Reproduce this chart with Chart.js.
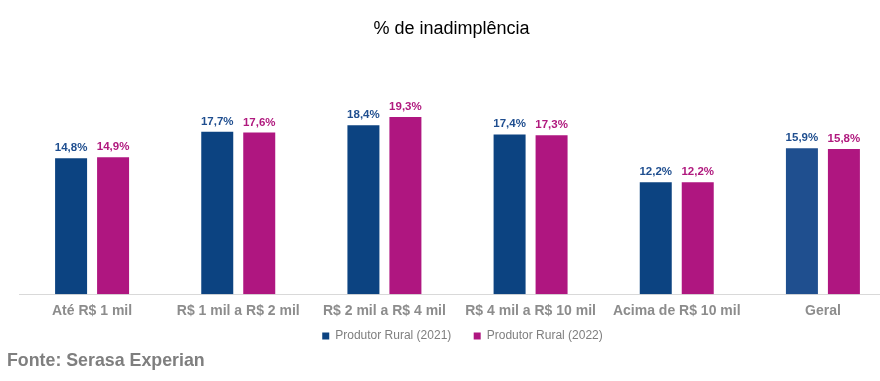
<!DOCTYPE html>
<html>
<head>
<meta charset="utf-8">
<script src="https://cdn.jsdelivr.net/npm/chart.js@4.4.1/dist/chart.umd.min.js"></script>
<style>
  html, body { margin: 0; padding: 0; background: #ffffff; width: 880px; height: 381px; overflow: hidden; }
  #wrap { position: absolute; left: 0; top: 0; width: 900px; height: 353px; }
  #footer { position: absolute; left: 7px; top: 350px; font: bold 17.8px Arial, "Liberation Sans", sans-serif; color: #7f7f7f; white-space: nowrap; }
</style>
</head>
<body>
<div id="wrap"><canvas id="c" width="900" height="353"></canvas></div>
<div id="footer">Fonte: Serasa Experian</div>
<script>
const categories = ['Até R$ 1 mil', 'R$ 1 mil a R$ 2 mil', 'R$ 2 mil a R$ 4 mil', 'R$ 4 mil a R$ 10 mil', 'Acima de R$ 10 mil', 'Geral'];
const seriesNames = ['Produtor Rural (2021)', 'Produtor Rural (2022)'];
const values2021 = [14.8, 17.7, 18.4, 17.4, 12.2, 15.9];
const values2022 = [14.9, 17.6, 19.3, 17.3, 12.2, 15.8];
const titleText = '% de inadimplência';

const FONT = 'Arial, "Liberation Sans", sans-serif';
const blue = '#0c4381';
const blueGeral = '#1f4f8f';
const magenta = '#af1680';

const fmt = v => v.toFixed(1).replace('.', ',') + '%';

const valueLabels = {
  id: 'valueLabels',
  afterDatasetsDraw(chart) {
    const ctx = chart.ctx;
    chart.data.datasets.forEach((ds, i) => {
      const meta = chart.getDatasetMeta(i);
      meta.data.forEach((bar, j) => {
        ctx.save();
        ctx.font = 'bold 11.5px ' + FONT;
        ctx.fillStyle = ds.labelColor;
        ctx.textAlign = 'center';
        ctx.textBaseline = 'alphabetic';
        ctx.fillText(fmt(ds.data[j]), bar.x, bar.y - 7);
        ctx.restore();
      });
    });
  }
};

const nudgeBlocks = {
  id: 'nudgeBlocks',
  afterLayout(chart) {
    if (chart.legend) { chart.legend.left += 5; chart.legend.right += 5; chart.legend.top -= 1; chart.legend.bottom -= 1; }
    if (chart.titleBlock) { chart.titleBlock.left -= 6; chart.titleBlock.right -= 6; }
  }
};

new Chart(document.getElementById('c'), {
  type: 'bar',
  data: {
    labels: categories,
    datasets: [
      {
        label: seriesNames[0],
        data: values2021,
        backgroundColor: values2021.map((v, i) => i === categories.length - 1 ? blueGeral : blue),
        labelColor: '#1f4e8f',
        categoryPercentage: 0.5745,
        barPercentage: 0.762
      },
      {
        label: seriesNames[1],
        data: values2022,
        backgroundColor: magenta,
        labelColor: '#b0197e',
        categoryPercentage: 0.5745,
        barPercentage: 0.762
      }
    ]
  },
  options: {
    responsive: false,
    animation: false,
    devicePixelRatio: 1,
    layout: { padding: { left: 19, right: 4, top: 0, bottom: 0 } },
    plugins: {
      title: {
        display: true,
        text: titleText,
        color: '#000000',
        font: { family: FONT, size: 18, weight: 'normal' },
        padding: { top: 18, bottom: 25 }
      },
      legend: {
        position: 'bottom',
        labels: {
          boxWidth: 7,
          boxHeight: 7,
          padding: 2,
          color: '#7f7f7f',
          font: { family: FONT, size: 12 },
          generateLabels(chart) {
            const items = Chart.defaults.plugins.legend.labels.generateLabels(chart);
            items.forEach((it, i) => {
              it.fillStyle = i === 0 ? blue : magenta;
              it.strokeStyle = it.fillStyle;
              it.lineWidth = 0;
              if (i < items.length - 1) it.text = it.text + '\u2003\u2002\u2009';
            });
            return items;
          }
        }
      },
      tooltip: { enabled: false }
    },
    scales: {
      y: { display: false, min: 0, max: 25 },
      x: {
        grid: { display: false, drawTicks: false },
        border: { display: true, color: '#d9d9d9', width: 1 },
        ticks: {
          color: '#8c8c8c',
          padding: 9,
          font: { family: FONT, size: 14, weight: 'bold' }
        }
      }
    }
  },
  plugins: [valueLabels, nudgeBlocks]
});
</script>
</body>
</html>
